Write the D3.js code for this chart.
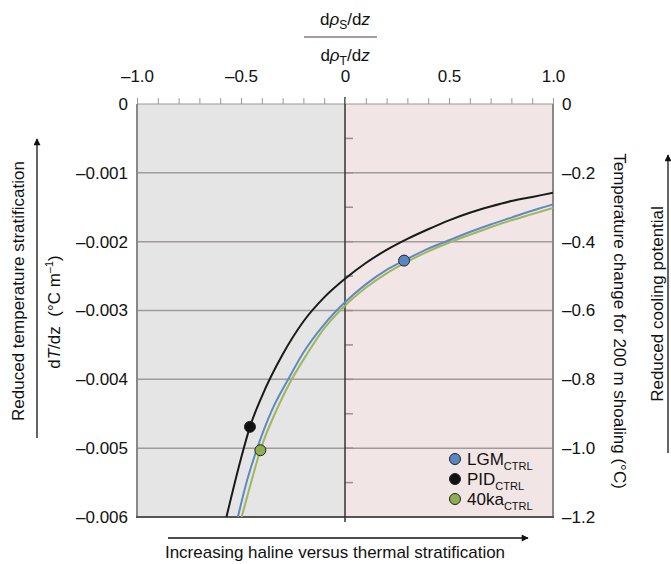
<!DOCTYPE html>
<html>
<head>
<meta charset="utf-8">
<script src="https://cdn.jsdelivr.net/npm/d3@7"></script>
<style>
  body { margin: 0; background: #fff; }
  svg text { font-family: "Liberation Sans", Arial, sans-serif; fill: #111; }
</style>
</head>
<body>
<svg id="chart" width="671" height="564"></svg>
<script>
var width = 671;
var height = 564;

// data
var topTicks = [-1, -0.5, 0, 0.5, 1];
var leftTicks = [0, -0.001, -0.002, -0.003, -0.004, -0.005, -0.006];
var rightTicks = [0, -0.2, -0.4, -0.6, -0.8, -1.0, -1.2];

var pidR = [-0.57, -0.50, -0.457, -0.40, -0.30, -0.20, -0.10, 0, 0.1, 0.2, 0.3, 0.4, 0.5, 0.6, 0.7, 0.8, 0.9, 1.0];
var pidT = [-0.00600, -0.00515, -0.00469, -0.00425, -0.00364, -0.00316, -0.00281, -0.00254, -0.00231, -0.00212, -0.00196, -0.00182, -0.00169, -0.00158, -0.00149, -0.00141, -0.00135, -0.00129];

var lgmR = [-0.515, -0.47, -0.422, -0.35, -0.273, -0.20, -0.10, 0, 0.1, 0.2, 0.284, 0.4, 0.5, 0.6, 0.7, 0.8, 0.9, 1.0];
var lgmT = [-0.00600, -0.00546, -0.00500, -0.00444, -0.00400, -0.00361, -0.00320, -0.00288, -0.00262, -0.00241, -0.002275, -0.00210, -0.00198, -0.00186, -0.00175, -0.00165, -0.00155, -0.00146];

var kaR = [-0.497, -0.45, -0.407, -0.33, -0.256, -0.18, -0.10, 0, 0.1, 0.2, 0.3, 0.4, 0.513, 0.6, 0.7, 0.8, 0.9, 1.0];
var kaT = [-0.00600, -0.00548, -0.00503, -0.00445, -0.00400, -0.00362, -0.00326, -0.00293, -0.00267, -0.00246, -0.00229, -0.00214, -0.00200, -0.00190, -0.00179, -0.00169, -0.00160, -0.00151];

// the three model states marked on the curves
var dotNames = ["LGM", "PID", "40ka"];
var dotR = [0.284, -0.457, -0.407];
var dotT = [-0.002275, -0.00469, -0.00503];
var colors = ["#5b86c6", "#111111", "#8fae4f"];
var lineColors = ["#6089c4", "#1a1a1a", "#9cb85a"];

var svg = d3.select("#chart");

var x = d3.scaleLinear().domain([-1, 1]).range([137, 553]);
var y = d3.scaleLinear().domain([-0.006, 0]).range([517, 104]);
var yr = d3.scaleLinear().domain([-1.2, 0]).range([517, 104]);

function fmt(d, n) {
    if (d == 0) return "0";
    var s = Math.abs(d).toFixed(n);
    return d < 0 ? "\u2013" + s : s;
}

// backgrounds
svg.append("rect").attr("x", x(-1)).attr("y", y(0))
    .attr("width", x(0) - x(-1)).attr("height", y(-0.006) - y(0))
    .attr("fill", "#e5e5e5");
svg.append("rect").attr("x", x(0)).attr("y", y(0))
    .attr("width", x(1) - x(0)).attr("height", y(-0.006) - y(0))
    .attr("fill", "#f1e5e5");

// grid lines
svg.append("g").selectAll("line")
    .data(leftTicks.slice(1, 6))
    .enter().append("line")
    .attr("x1", x(-1)).attr("x2", x(1))
    .attr("y1", function(d) { return y(d); })
    .attr("y2", function(d) { return y(d); })
    .attr("stroke", "#a09a9a").attr("stroke-width", 1.5);

// small ticks on the zero line
var zt = d3.range(1, 12).map(function(i) { return -0.0005 * i; });
svg.append("g").selectAll("line")
    .data(zt)
    .enter().append("line")
    .attr("x1", x(0)).attr("x2", x(0) + 8)
    .attr("y1", function(d) { return y(d); })
    .attr("y2", function(d) { return y(d); })
    .attr("stroke", "#9a9090").attr("stroke-width", 1.5);

// borders
svg.append("line").attr("x1", x(-1)).attr("x2", x(1)).attr("y1", y(0)).attr("y2", y(0))
    .attr("stroke", "#9a9a9a").attr("stroke-width", 1.2);
svg.append("line").attr("x1", x(-1)).attr("x2", x(-1)).attr("y1", y(0)).attr("y2", y(-0.006))
    .attr("stroke", "#888").attr("stroke-width", 2);
svg.append("line").attr("x1", x(1)).attr("x2", x(1)).attr("y1", y(0)).attr("y2", y(-0.006))
    .attr("stroke", "#888").attr("stroke-width", 2);
svg.append("line").attr("x1", x(-1) - 1).attr("x2", x(1) + 1).attr("y1", y(-0.006)).attr("y2", y(-0.006))
    .attr("stroke", "#555").attr("stroke-width", 2);
svg.append("line").attr("x1", x(0)).attr("x2", x(0)).attr("y1", y(0) - 7).attr("y2", y(-0.006) + 5)
    .attr("stroke", "#333").attr("stroke-width", 1.5);

// top axis: minor ticks, then labels
var minor = svg.append("g").attr("transform", "translate(0," + y(0) + ")")
    .call(d3.axisTop(x).ticks(20).tickSize(6).tickFormat(""));
minor.select(".domain").remove();
minor.selectAll("line").attr("stroke", "#999");

var topAxis = svg.append("g").attr("transform", "translate(0," + y(0) + ")")
    .call(d3.axisTop(x).tickValues(topTicks).tickSize(0).tickPadding(22)
        .tickFormat(function(d) { return fmt(d, 1); }));
topAxis.select(".domain").remove();
topAxis.selectAll("text").attr("font-size", 17).attr("font-family", "Liberation Sans, Arial, sans-serif");

// left axis
var leftAxis = svg.append("g").attr("transform", "translate(" + x(-1) + ",0)")
    .call(d3.axisLeft(y).tickValues(leftTicks).tickSize(0).tickPadding(9)
        .tickFormat(function(d) { return fmt(d, 3); }));
leftAxis.select(".domain").remove();
leftAxis.selectAll("text").attr("font-size", 17).attr("font-family", "Liberation Sans, Arial, sans-serif");

// right axis
var rightAxis = svg.append("g").attr("transform", "translate(" + x(1) + ",0)")
    .call(d3.axisRight(yr).tickValues(rightTicks).tickSize(0).tickPadding(9)
        .tickFormat(function(d) { return fmt(d, 1); }));
rightAxis.select(".domain").remove();
rightAxis.selectAll("text").attr("font-size", 17).attr("font-family", "Liberation Sans, Arial, sans-serif");

// curves
svg.append("clipPath").attr("id", "clip")
    .append("rect").attr("x", x(-1)).attr("y", y(0))
    .attr("width", x(1) - x(-1)).attr("height", y(-0.006) - y(0));

var line = d3.line()
    .x(function(d) { return x(d[0]); })
    .y(function(d) { return y(d[1]); })
    .curve(d3.curveMonotoneX);

var series = [d3.zip(lgmR, lgmT), d3.zip(pidR, pidT), d3.zip(kaR, kaT)];
var drawOrder = [2, 0, 1];
drawOrder.forEach(function(i) {
    svg.append("path").datum(series[i])
        .attr("clip-path", "url(#clip)")
        .attr("d", line)
        .attr("fill", "none")
        .attr("stroke", lineColors[i])
        .attr("stroke-width", 2);
});

svg.append("g").selectAll("circle")
    .data(d3.range(3))
    .enter().append("circle")
    .attr("cx", function(i) { return x(dotR[i]); })
    .attr("cy", function(i) { return y(dotT[i]); })
    .attr("r", 5.5)
    .attr("fill", function(i) { return colors[i]; })
    .attr("stroke", "#222").attr("stroke-width", 1);

// legend
var leg = svg.append("g").attr("transform", "translate(455,459)");
dotNames.forEach(function(name, i) {
    var g = leg.append("g").attr("transform", "translate(0," + (i * 20) + ")");
    g.append("circle").attr("r", 5.5).attr("fill", colors[i]).attr("stroke", "#222").attr("stroke-width", 1);
    var t = g.append("text").attr("x", 12).attr("y", 6).attr("font-size", 17);
    t.append("tspan").text(name);
    t.append("tspan").attr("font-size", 11).attr("dy", 5).text("CTRL");
});

// top fraction label
var num = svg.append("text").attr("x", x(0)).attr("y", 25).attr("text-anchor", "middle").attr("font-size", 17);
num.append("tspan").text("d");
num.append("tspan").attr("font-style", "italic").text("\u03c1");
num.append("tspan").attr("font-size", 12).attr("dy", 4).text("S");
num.append("tspan").attr("dy", -4).text("/d");
num.append("tspan").attr("font-style", "italic").text("z");

svg.append("line").attr("x1", 304).attr("x2", 377).attr("y1", 37).attr("y2", 37)
    .attr("stroke", "#8c7c78").attr("stroke-width", 1.5);

var den = svg.append("text").attr("x", x(0)).attr("y", 61).attr("text-anchor", "middle").attr("font-size", 17);
den.append("tspan").text("d");
den.append("tspan").attr("font-style", "italic").text("\u03c1");
den.append("tspan").attr("font-size", 12).attr("dy", 4).text("T");
den.append("tspan").attr("dy", -4).text("/d");
den.append("tspan").attr("font-style", "italic").text("z");

// left titles
svg.append("text").attr("transform", "translate(24,291) rotate(-90)")
    .attr("text-anchor", "middle").attr("font-size", 17)
    .text("Reduced temperature stratification");

var lt = svg.append("text").attr("transform", "translate(60,312) rotate(-90)")
    .attr("text-anchor", "middle").attr("font-size", 17);
lt.append("tspan").text("d");
lt.append("tspan").attr("font-style", "italic").text("T");
lt.append("tspan").text("/dz\u00a0\u00a0(\u00b0C m");
lt.append("tspan").attr("font-size", 11).attr("dy", -7).text("\u20131");
lt.append("tspan").attr("dy", 7).text(")");

// right titles
svg.append("text").attr("transform", "translate(614,321) rotate(90)")
    .attr("text-anchor", "middle").attr("font-size", 17)
    .text("Temperature change for 200 m shoaling (\u00b0C)");

svg.append("text").attr("transform", "translate(663,304) rotate(-90)")
    .attr("text-anchor", "middle").attr("font-size", 17)
    .text("Reduced cooling potential");

// bottom title
svg.append("text").attr("x", 335).attr("y", 558)
    .attr("text-anchor", "middle").attr("font-size", 17)
    .text("Increasing haline versus thermal stratification");

// arrows
svg.append("defs").append("marker")
    .attr("id", "head")
    .attr("viewBox", "0 0 10 10")
    .attr("refX", 9).attr("refY", 5)
    .attr("markerWidth", 9).attr("markerHeight", 7)
    .attr("markerUnits", "userSpaceOnUse")
    .attr("orient", "auto")
    .append("path").attr("d", "M0,0 L10,5 L0,10 Z").attr("fill", "#111");

var arrows = [[37, 438, 37, 139], [668, 453, 668, 155], [168, 538, 528, 538]];
svg.append("g").selectAll("line")
    .data(arrows)
    .enter().append("line")
    .attr("x1", function(d) { return d[0]; })
    .attr("y1", function(d) { return d[1]; })
    .attr("x2", function(d) { return d[2]; })
    .attr("y2", function(d) { return d[3]; })
    .attr("stroke", "#111").attr("stroke-width", 1.3)
    .attr("marker-end", "url(#head)");
</script>
</body>
</html>
